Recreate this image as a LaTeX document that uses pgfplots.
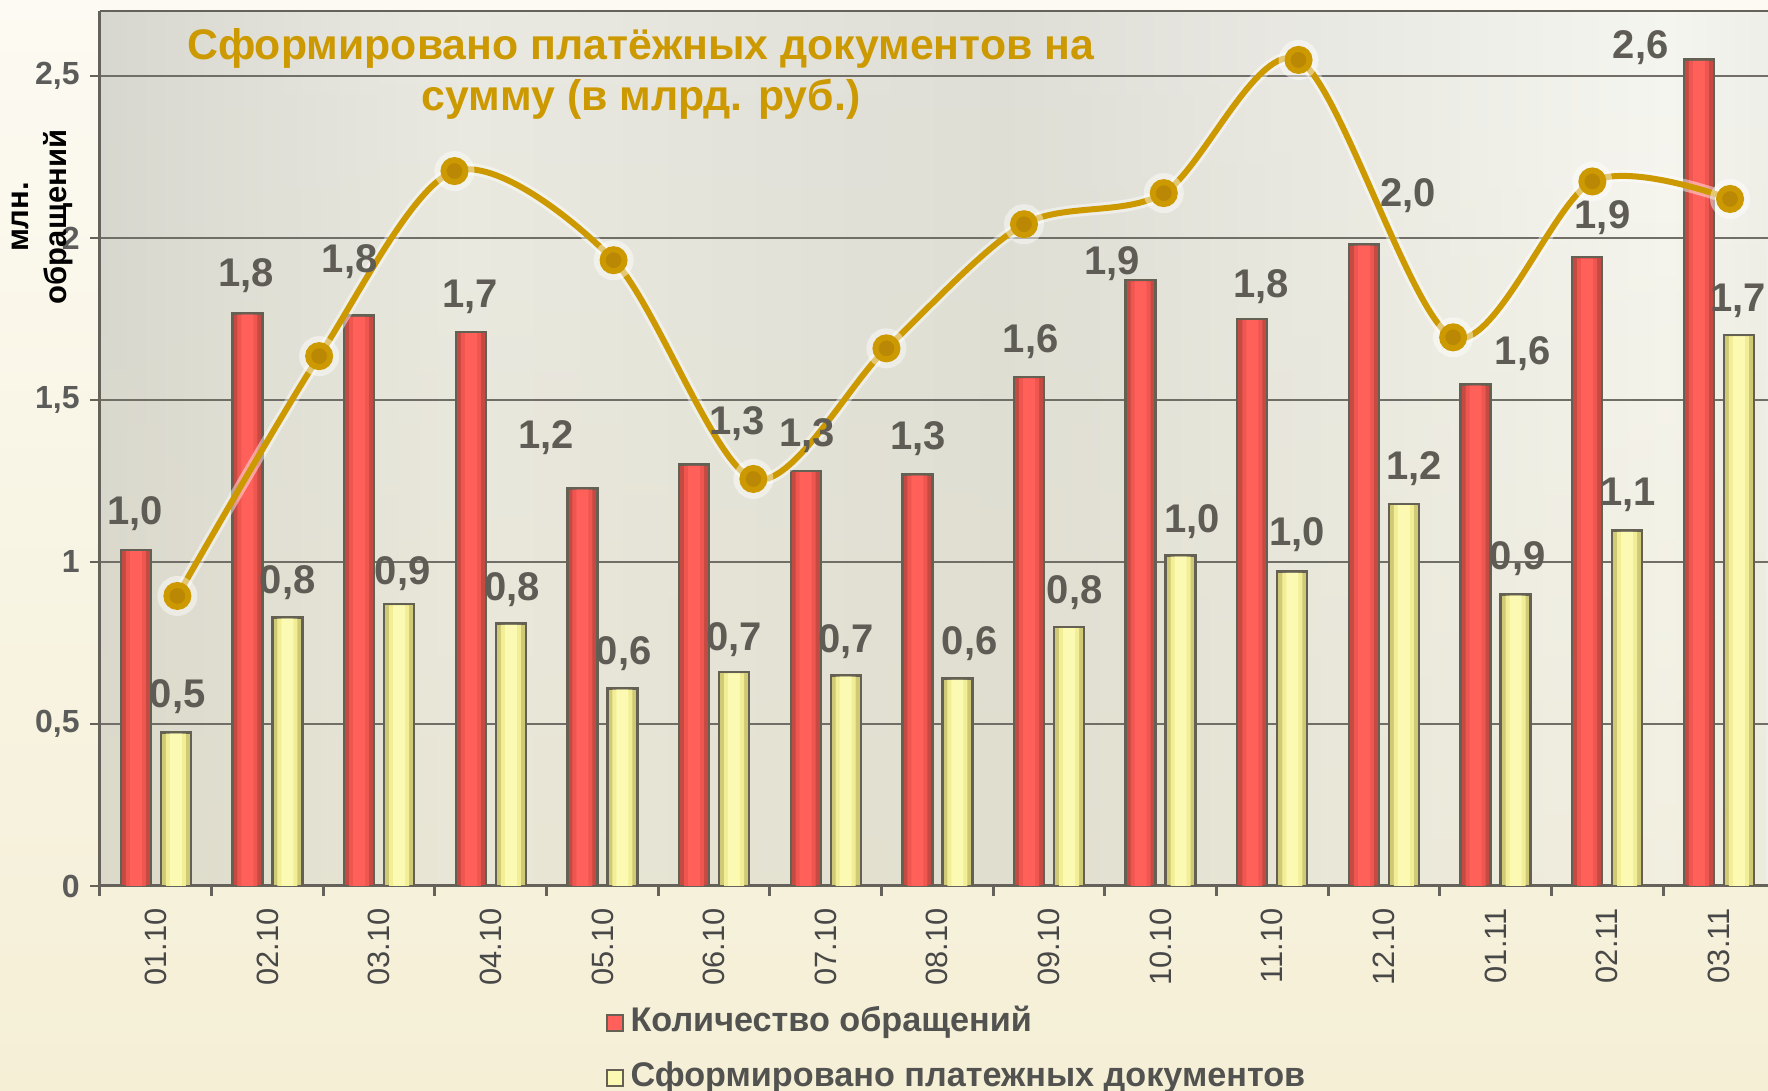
\documentclass[border=0pt]{standalone}
\usepackage{pgfplots}
\usepackage{pgfplotstable}
\pgfplotsset{compat=1.18}
\usepackage{fontspec}
\setmainfont{Liberation Sans}
\usetikzlibrary{fadings}

\definecolor{axisgray}{RGB}{100,98,90}
\definecolor{gridgray}{RGB}{112,110,102}
\definecolor{redmid}{RGB}{255,96,90}
\definecolor{redmid2}{RGB}{240,86,80}
\definecolor{rededge}{RGB}{196,74,66}
\definecolor{yelmid}{RGB}{252,250,178}
\definecolor{yelmid2}{RGB}{242,238,150}
\definecolor{yeledge}{RGB}{208,202,118}
\definecolor{barborder}{RGB}{100,96,84}
\definecolor{gold}{RGB}{204,153,0}
\definecolor{markergold}{RGB}{186,136,4}
\definecolor{labelgray}{RGB}{95,92,85}
\definecolor{ytickgray}{RGB}{92,92,90}
\definecolor{xtickgray}{RGB}{72,72,72}
\definecolor{leggray}{RGB}{82,82,80}
\definecolor{bgA}{RGB}{180,180,174}
\definecolor{bgB}{RGB}{198,198,192}
\definecolor{bgC}{RGB}{234,234,227}
\definecolor{bgD}{RGB}{222,222,215}
\definecolor{bgE}{RGB}{246,246,241}
\definecolor{bgF}{RGB}{210,210,204}
\definecolor{cream}{RGB}{232,224,186}
\definecolor{pagetop}{RGB}{252,250,242}
\definecolor{pagebot}{RGB}{245,239,214}

\pgfdeclarehorizontalshading{plotbg}{100bp}{color(0bp)=(bgA); color(15bp)=(bgB); color(36bp)=(bgC); color(52bp)=(bgD); color(72bp)=(bgE); color(88bp)=(bgF); color(100bp)=(bgA)}

\pgfplotstableread{
x red yel
0 1.037 0.474
1 1.767 0.829
2 1.760 0.870
3 1.710 0.810
4 1.227 0.610
5 1.300 0.660
6 1.281 0.650
7 1.270 0.640
8 1.570 0.800
9 1.870 1.020
10 1.750 0.970
11 1.980 1.179
12 1.548 0.900
13 1.940 1.097
14 2.550 1.700
}\bardata

\pgfplotstableread{
x y
0.193 0.895
1.463 1.635
2.675 2.206
4.100 1.931
5.352 1.256
6.544 1.659
7.776 2.042
9.028 2.138
10.235 2.549
11.620 1.693
12.867 2.174
14.100 2.120
}\linedata

\pgfplotstableread{
x y lab
-0.183 1.150 1,0
0.807 1.882 1,8
1.737 1.927 1,8
2.817 1.819 1,7
3.494 1.384 1,2
5.204 1.426 1,3
5.831 1.389 1,3
6.827 1.381 1,3
7.836 1.680 1,6
8.563 1.920 1,9
9.898 1.850 1,8
11.214 2.130 2,0
12.242 1.642 1,6
12.958 2.063 1,9
13.300 2.588 2,6
}\redlabels

\pgfplotstableread{
x y lab
0.195 0.584 0,5
1.180 0.937 0,8
2.211 0.963 0,9
3.190 0.914 0,8
4.190 0.716 0,6
5.180 0.761 0,7
6.180 0.754 0,7
7.290 0.747 0,6
8.230 0.904 0,8
9.280 1.123 1,0
10.220 1.085 1,0
11.270 1.287 1,2
12.197 1.009 0,9
13.187 1.207 1,1
14.170 1.806 1,7
}\yellabels

\begin{document}
\begin{tikzpicture}
\useasboundingbox (0,0) rectangle (884pt,545.5pt);
\clip (0,0) rectangle (884pt,545.5pt);
\shade[top color=pagetop, bottom color=pagebot] (0,0) rectangle (884pt,545.5pt);
\begin{axis}[
  at={(50pt,102.5pt)}, anchor=south west,
  scale only axis, width=834pt, height=437.5pt,
  xmin=-0.5, xmax=14.44, ymin=0, ymax=2.70,
  axis x line*=bottom, axis y line*=left,
  axis line style={-, draw=axisgray, line width=1.5pt},
  axis background/.style={shade, shading=plotbg,
     path picture={\fill[cream, fill opacity=0.3, path fading=north]
       (path picture bounding box.south west) rectangle (path picture bounding box.north east);}},
  ytick={0,0.5,1,1.5,2,2.5},
  yticklabels={0,{0,5},1,{1,5},2,{2,5}},
  ymajorgrids, grid style={draw=gridgray, line width=1pt},
  xtick={0,...,14},
  xticklabels={01.10,02.10,03.10,04.10,05.10,06.10,07.10,08.10,09.10,10.10,11.10,12.10,01.11,02.11,03.11},
  minor xtick={-0.5,0.5,...,14.5},
  tick align=outside,
  major x tick style={draw=none},
  minor x tick style={draw=axisgray, line width=1.5pt},
  y tick style={draw=axisgray, line width=1.2pt},
  major tick length=5pt, minor tick length=5pt,
  xticklabel style={rotate=90, anchor=east, inner sep=0pt, xshift=-6pt, font=\fontsize{15.4}{18}\selectfont, text=xtickgray},
  yticklabel style={inner sep=0pt, font=\fontsize{16}{18}\selectfont\bfseries, text=ytickgray, xshift=-5pt},
  /pgf/number format/assume math mode=true,
  ylabel={млн.\\обращений},
  ylabel style={at={(axis description cs:-0.0342,0.7646)}, anchor=center, align=center,
     font=\fontsize{15.5}{19}\selectfont\bfseries, text=black},
  title={Сформировано платёжных документов на\\сумму (в млрд. руб.)},
  title style={at={(axis description cs:0.3243,0.9142)}, anchor=center, align=center,
     font=\fontsize{21.4}{25.5}\selectfont\bfseries, text=gold},
  legend style={at={(axis description cs:0.3031,-0.1877)}, anchor=west, draw=none, fill=none,
     font=\fontsize{17.1}{19}\selectfont\bfseries, text=leggray, row sep=12pt, column sep=3.5pt,
     inner sep=0pt, nodes={inner sep=0pt, text height=12pt, text depth=3.5pt}},
  legend cell align=left,
]
% red and yellow bars (outer with border, inner lighter layers)
\addplot[ybar, bar width=15pt, bar shift=-10pt, draw=barborder, line width=1.2pt, fill=rededge,
  legend image code/.code={\draw[draw=barborder, fill=redmid, line width=0.8pt] (0pt,-4pt) rectangle (8pt,4pt);}]
  table[x=x, y=red] {\bardata};
\addlegendentry{Количество обращений}
\addplot[ybar, bar width=15pt, bar shift=10pt, draw=barborder, line width=1.2pt, fill=yeledge,
  legend image code/.code={\draw[draw=barborder, fill=yelmid, line width=0.8pt] (0pt,-4pt) rectangle (8pt,4pt);}]
  table[x=x, y=yel] {\bardata};
\addlegendentry{Сформировано платежных документов}
\addplot[forget plot, ybar, bar width=10pt, bar shift=-10pt, draw=none, fill=redmid2]
  table[x=x, y expr=\thisrow{red}-0.004] {\bardata};
\addplot[forget plot, ybar, bar width=6pt, bar shift=-10pt, draw=none, fill=redmid]
  table[x=x, y expr=\thisrow{red}-0.004] {\bardata};
\addplot[forget plot, ybar, bar width=10pt, bar shift=10pt, draw=none, fill=yelmid2]
  table[x=x, y expr=\thisrow{yel}-0.004] {\bardata};
\addplot[forget plot, ybar, bar width=6pt, bar shift=10pt, draw=none, fill=yelmid]
  table[x=x, y expr=\thisrow{yel}-0.004] {\bardata};
% data labels
\addplot[forget plot, only marks, mark=none, nodes near coords, point meta=explicit symbolic,
  every node near coord/.style={anchor=center, inner sep=0pt, font=\fontsize{20}{24}\selectfont\bfseries, text=labelgray}]
  table[x=x, y=y, meta=lab] {\redlabels};
\addplot[forget plot, only marks, mark=none, nodes near coords, point meta=explicit symbolic,
  every node near coord/.style={anchor=center, inner sep=0pt, font=\fontsize{20}{24}\selectfont\bfseries, text=labelgray}]
  table[x=x, y=y, meta=lab] {\yellabels};
% smooth line with soft glow
\addplot[forget plot, smooth, tension=0.5, draw=white, draw opacity=0.45, line width=6pt, mark=*, mark size=7pt,
  mark options={fill=white, draw=none, fill opacity=0.5}]
  table[x=x, y=y] {\linedata};
\addplot[forget plot, smooth, tension=0.5, draw=gold, line width=3pt, mark=*, mark size=5.5pt,
  mark options={fill=markergold, draw=none}]
  table[x=x, y=y] {\linedata};
\draw[draw=axisgray, line width=1.5pt] (rel axis cs:0,1) -- (rel axis cs:1,1);
\end{axis}
\end{tikzpicture}
\end{document}
